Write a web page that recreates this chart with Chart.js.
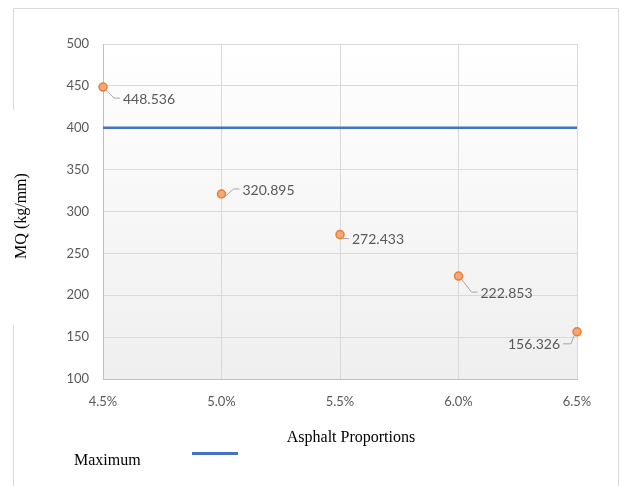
<!DOCTYPE html>
<html>
<head>
<meta charset="utf-8">
<script src="https://cdn.jsdelivr.net/npm/chart.js@4"></script>
<style>
  html, body { margin: 0; padding: 0; background: #fff; }
  #wrap { width: 624px; height: 486px; }
</style>
</head>
<body>
<div id="wrap"><canvas id="chartMQ" width="624" height="486"></canvas></div>
<script>
const proportions = [4.5, 5.0, 5.5, 6.0, 6.5];
const mqValues = [448.536, 320.895, 272.433, 222.853, 156.326];
const maxLimit = [400, 400];
const limitX = [4.5, 6.5];
const yTicks = [100, 150, 200, 250, 300, 350, 400, 450, 500];

// label offsets relative to point: [textX, textY, align]
const labelPos = [
    [20, 12, "left"],
    [21, -4, "left"],
    [12, 5, "left"],
    [22, 17, "left"],
    [-17, 13, "right"]
];

const decor = {
    id: "decor",
    beforeDraw(chart) {
        const ctx = chart.ctx;
        const a = chart.chartArea;
        ctx.save();
        ctx.fillStyle = "#fff";
        ctx.fillRect(0, 0, chart.width, chart.height);
        const g = ctx.createLinearGradient(0, a.top, 0, a.bottom);
        g.addColorStop(0, "#ffffff");
        g.addColorStop(1, "#efefef");
        ctx.fillStyle = g;
        ctx.fillRect(a.left, a.top, a.right - a.left, a.bottom - a.top);
        // outer frame
        ctx.strokeStyle = "#d9d9d9";
        ctx.lineWidth = 1;
        ctx.beginPath();
        ctx.moveTo(13.5, 110);
        ctx.lineTo(13.5, 8.5);
        ctx.lineTo(618.5, 8.5);
        ctx.lineTo(618.5, 486);
        ctx.moveTo(13.5, 325);
        ctx.lineTo(13.5, 486);
        ctx.stroke();
        ctx.restore();
    },
    afterDraw(chart) {
        const ctx = chart.ctx;
        const meta = chart.getDatasetMeta(1);
        ctx.save();
        ctx.font = "14px Lato, 'Open Sans', sans-serif";
        ctx.textBaseline = "middle";
        meta.data.forEach((pt, i) => {
            const [dx, dy, al] = labelPos[i];
            const tx = pt.x + dx, ty = pt.y + dy;
            ctx.strokeStyle = "#a6a6a6";
            ctx.lineWidth = 1;
            ctx.beginPath();
            if (al === "left") {
                ctx.moveTo(pt.x + 3, pt.y + 3);
                ctx.lineTo(tx - 9, ty - 1);
                ctx.lineTo(tx - 3, ty - 1);
            } else {
                ctx.moveTo(pt.x - 3, pt.y + 4);
                ctx.lineTo(tx + 11, ty - 1);
                ctx.lineTo(tx + 3, ty - 1);
            }
            ctx.stroke();
            ctx.fillStyle = "#595959";
            ctx.textAlign = al;
            ctx.fillText(mqValues[i].toFixed(3), tx, ty);
        });
        // axis titles
        ctx.fillStyle = "#000";
        ctx.font = "16px 'Liberation Serif', serif";
        ctx.textAlign = "center";
        ctx.fillText("Asphalt Proportions", 351, 438);
        ctx.save();
        ctx.translate(22, 216);
        ctx.rotate(-Math.PI / 2);
        ctx.fillText("MQ (kg/mm)", 0, 0);
        ctx.restore();
        // legend
        ctx.textAlign = "left";
        ctx.font = "16px 'Liberation Serif', serif";
        ctx.fillText("Maximum", 74, 461);
        ctx.strokeStyle = "#4472c4";
        ctx.lineWidth = 3;
        ctx.beginPath();
        ctx.moveTo(192, 453.5);
        ctx.lineTo(238, 453.5);
        ctx.stroke();
        ctx.restore();
    }
};

new Chart(document.getElementById("chartMQ"), {
    type: "scatter",
    data: {
        datasets: [
            {
                label: "Maximum",
                type: "line",
                data: limitX.map((x, i) => ({ x: x, y: maxLimit[i] })),
                borderColor: "#4472c4",
                borderWidth: 2.5,
                pointRadius: 0,
                fill: false
            },
            {
                label: "MQ",
                data: proportions.map((x, i) => ({ x: x, y: mqValues[i] })),
                backgroundColor: "#f4a77a",
                borderColor: "#ed7d31",
                borderWidth: 1.5,
                pointRadius: 4,
                clip: false
            }
        ]
    },
    options: {
        responsive: false,
        animation: false,
        layout: { padding: { left: 0, top: 44, right: 47, bottom: 0 } },
        plugins: {
            legend: { display: false },
            tooltip: { enabled: false }
        },
        scales: {
            x: {
                type: "linear",
                min: 4.5,
                max: 6.5,
                afterFit: s => { s.height = 107; },
                ticks: {
                    stepSize: 0.5,
                    padding: 15,
                    color: "#595959",
                    font: { family: "Lato, 'Open Sans', sans-serif", size: 13 },
                    callback: v => v.toFixed(1) + "%"
                },
                grid: { color: "#d9d9d9", drawTicks: false },
                border: { color: "#bfbfbf" }
            },
            y: {
                min: 100,
                max: 500,
                afterFit: s => { s.width = 103; },
                afterBuildTicks: s => { s.ticks = yTicks.map(v => ({ value: v })); },
                ticks: {
                    padding: 14,
                    color: "#595959",
                    font: { family: "Lato, 'Open Sans', sans-serif", size: 13 }
                },
                grid: { color: "#d9d9d9", drawTicks: false },
                border: { color: "#bfbfbf" }
            }
        }
    },
    plugins: [decor]
});
</script>
</body>
</html>
